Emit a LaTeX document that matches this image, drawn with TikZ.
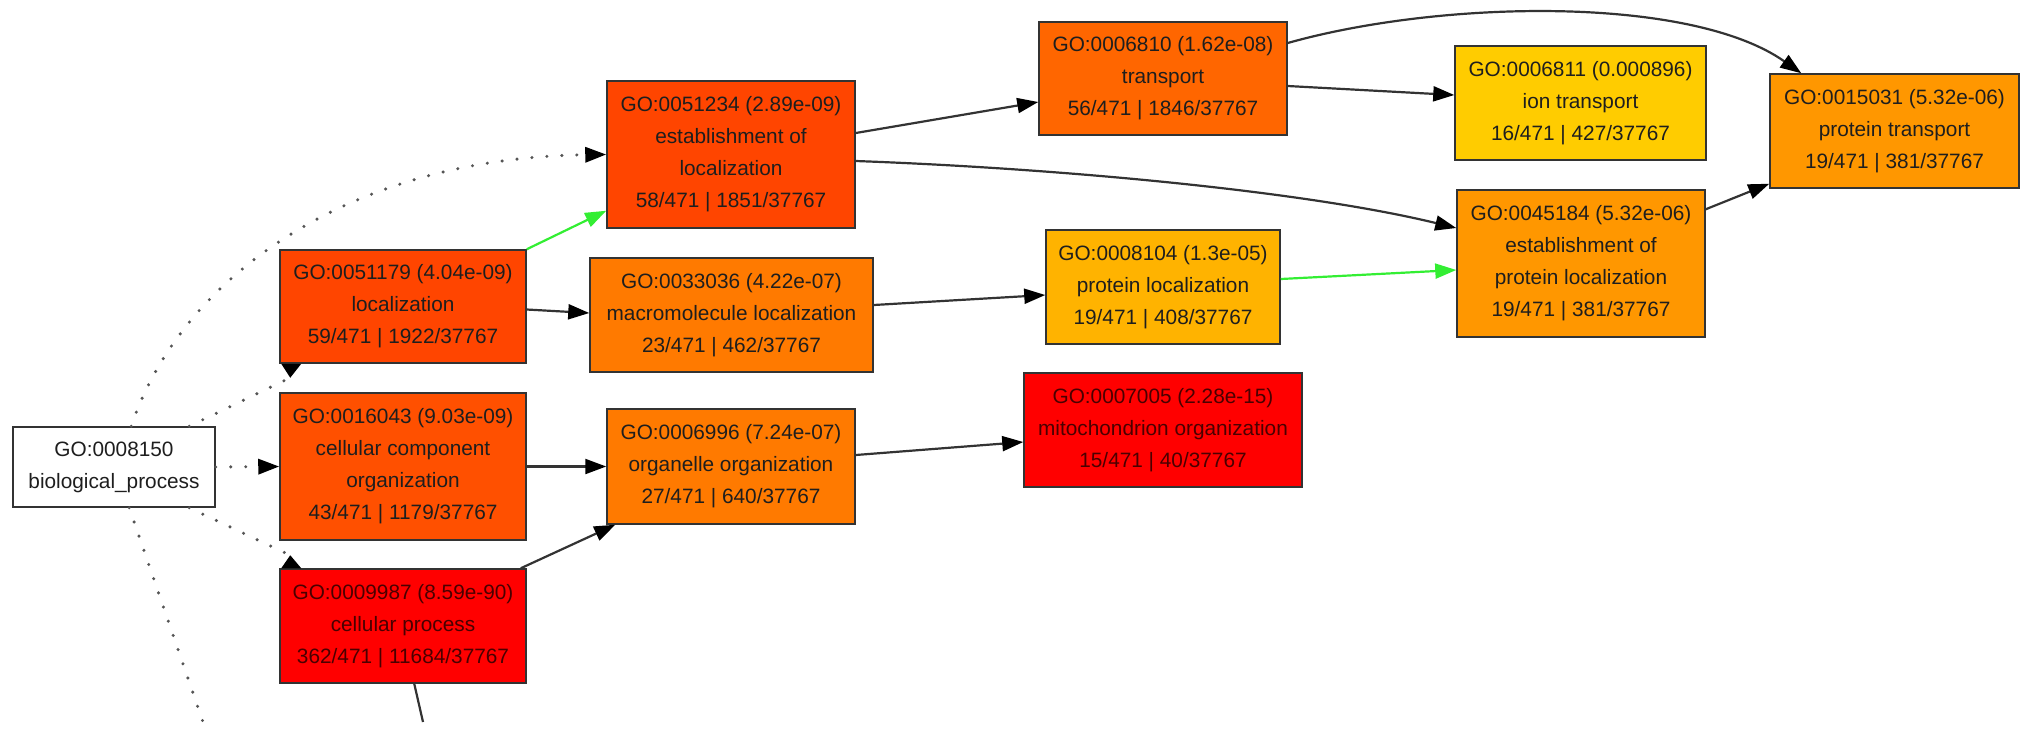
\documentclass[tikz,border=0pt]{standalone}
\usepackage{fontspec}
\setmainfont{Liberation Sans}
\usetikzlibrary{arrows.meta,calc}
\definecolor{cRoot}{HTML}{FFFFFF}
\definecolor{cLoc}{HTML}{FF4500}
\definecolor{cCco}{HTML}{FF5000}
\definecolor{cRed}{HTML}{FF0000}
\definecolor{cMac}{HTML}{FF7A00}
\definecolor{cTra}{HTML}{FF6600}
\definecolor{cPlo}{HTML}{FFB300}
\definecolor{cIon}{HTML}{FFCC00}
\definecolor{cEpl}{HTML}{FF9700}
\definecolor{cGreen}{HTML}{33EE33}
\definecolor{cEdge}{HTML}{333333}
\definecolor{cDot}{HTML}{555555}
\definecolor{cTxt}{HTML}{1E1E1E}
\definecolor{cTxtRed}{HTML}{4A0000}
\begin{document}
\begin{tikzpicture}[x=0.5pt,y=-0.5pt,
  go/.style={draw=black!80, line width=0.75pt, align=center, inner sep=0pt,
    font=\fontsize{10.4}{16}\selectfont, text=cTxt},
  redgo/.style={go, fill=cRed, text=cTxtRed},
  edge/.style={draw=cEdge, line width=1.1pt, -{Triangle[length=10.5pt,width=7.5pt,color=black]}},
  gedge/.style={draw=cGreen, line width=1.1pt, -{Triangle[length=10.5pt,width=7.5pt,color=cGreen]}},
  dots/.style={draw=cDot, line width=1.7pt, line cap=round, dash pattern=on 0pt off 7.5pt},
  darr/.style={dots, -{Triangle[length=10.5pt,width=7.5pt,color=black]}},
  plain/.style={draw=cEdge, line width=1.1pt},
]
\useasboundingbox (0,0) rectangle (2032,735);

% nodes
\node[go, fill=cRoot, minimum width=101pt, minimum height=40pt] (root) at (114,467) {GO:0008150\\biological\_process};
\node[go, fill=cLoc, minimum width=123pt, minimum height=56.5pt] (loc) at (403,306.5) {GO:0051179 (4.04e-09)\\localization\\59/471 | 1922/37767};
\node[go, fill=cCco, minimum width=123pt, minimum height=73.5pt] (cco) at (403,466.5) {GO:0016043 (9.03e-09)\\cellular component\\organization\\43/471 | 1179/37767};
\node[redgo, minimum width=123pt, minimum height=57pt] (cp) at (403,626) {GO:0009987 (8.59e-90)\\cellular process\\362/471 | 11684/37767};
\node[go, fill=cLoc, minimum width=124pt, minimum height=73.5pt] (eol) at (731,154.5) {GO:0051234 (2.89e-09)\\establishment of\\localization\\58/471 | 1851/37767};
\node[go, fill=cMac, minimum width=141.5pt, minimum height=57pt] (mac) at (731.5,315) {GO:0033036 (4.22e-07)\\macromolecule localization\\23/471 | 462/37767};
\node[go, fill=cMac, minimum width=124pt, minimum height=57.5pt] (org) at (731,466.5) {GO:0006996 (7.24e-07)\\organelle organization\\27/471 | 640/37767};
\node[go, fill=cTra, minimum width=124pt, minimum height=56.5pt] (tra) at (1163,78.5) {GO:0006810 (1.62e-08)\\transport\\56/471 | 1846/37767};
\node[go, fill=cPlo, minimum width=117pt, minimum height=57pt] (plo) at (1163,287) {GO:0008104 (1.3e-05)\\protein localization\\19/471 | 408/37767};
\node[redgo, minimum width=139pt, minimum height=57pt] (mit) at (1163,430) {GO:0007005 (2.28e-15)\\mitochondrion organization\\15/471 | 40/37767};
\node[go, fill=cIon, minimum width=125.5pt, minimum height=57pt] (ion) at (1580.5,103) {GO:0006811 (0.000896)\\ion transport\\16/471 | 427/37767};
\node[go, fill=cEpl, minimum width=124pt, minimum height=73.5pt] (epl) at (1581,263.5) {GO:0045184 (5.32e-06)\\establishment of\\protein localization\\19/471 | 381/37767};
\node[go, fill=cEpl, minimum width=124.5pt, minimum height=57pt] (ptr) at (1894.5,131) {GO:0015031 (5.32e-06)\\protein transport\\19/471 | 381/37767};

% helper coordinates
\coordinate (tipA) at ($(loc.south west)+(11,14)$);
\coordinate (tipB) at ($(cp.north west)+(11,-13)$);
\coordinate (offA) at (203,722);
\coordinate (offB) at (423,722);

% dotted edges from root
\draw[darr] ($(root.north west)+(119,0)$) .. controls (180,280) and (345,158) .. (eol.west);
\draw[dots] ($(root.north west)+(177,0)$) -- (tipA);
\fill[black] ($(loc.south west)+(2,0)$) -- ($(loc.south west)+(22,0)$) -- (tipA) -- cycle;
\draw[darr] (root.east) -- (cco.west);
\draw[dots] ($(root.south west)+(177,0)$) -- (tipB);
\fill[black] ($(cp.north west)+(2,0)$) -- ($(cp.north west)+(22,0)$) -- (tipB) -- cycle;
\draw[dots] ($(root.south west)+(117,0)$) -- (offA);

% solid edges
\draw[plain] ($(cp.south west)+(135,0)$) -- (offB);
\draw[gedge] (loc.north east) -- ($(eol.south west)+(0,-18)$);
\draw[edge] ($(loc.east)+(0,3)$) -- ($(mac.west)+(0,-2)$);
\draw[edge] (cco.east) -- (org.west);
\draw[edge] ($(cp.north east)+(-6,0)$) -- ($(org.south west)+(9,0)$);
\draw[edge] ($(eol.east)+(0,-21.5)$) -- ($(tra.west)+(0,23.5)$);
\draw[edge] ($(eol.east)+(0,6.5)$) .. controls (1050,168) and (1300,190) .. ($(epl.west)+(0,-35.5)$);
\draw[edge] ($(mac.east)+(0,-10)$) -- ($(plo.west)+(0,8)$);
\draw[edge] ($(org.east)+(0,-11.5)$) -- ($(mit.west)+(0,12)$);
\draw[edge] ($(tra.east)+(0,7.5)$) -- ($(ion.west)+(0,-8)$);
\draw[edge] ($(tra.east)+(0,-35.5)$) .. controls (1440,0) and (1690,-5) .. ($(ptr.north west)+(32,0)$);
\draw[gedge] ($(plo.east)+(0,-8)$) -- ($(epl.west)+(0,6.5)$);
\draw[edge] ($(epl.north east)+(0,20)$) -- ($(ptr.south west)+(0,-5)$);
\end{tikzpicture}
\end{document}
